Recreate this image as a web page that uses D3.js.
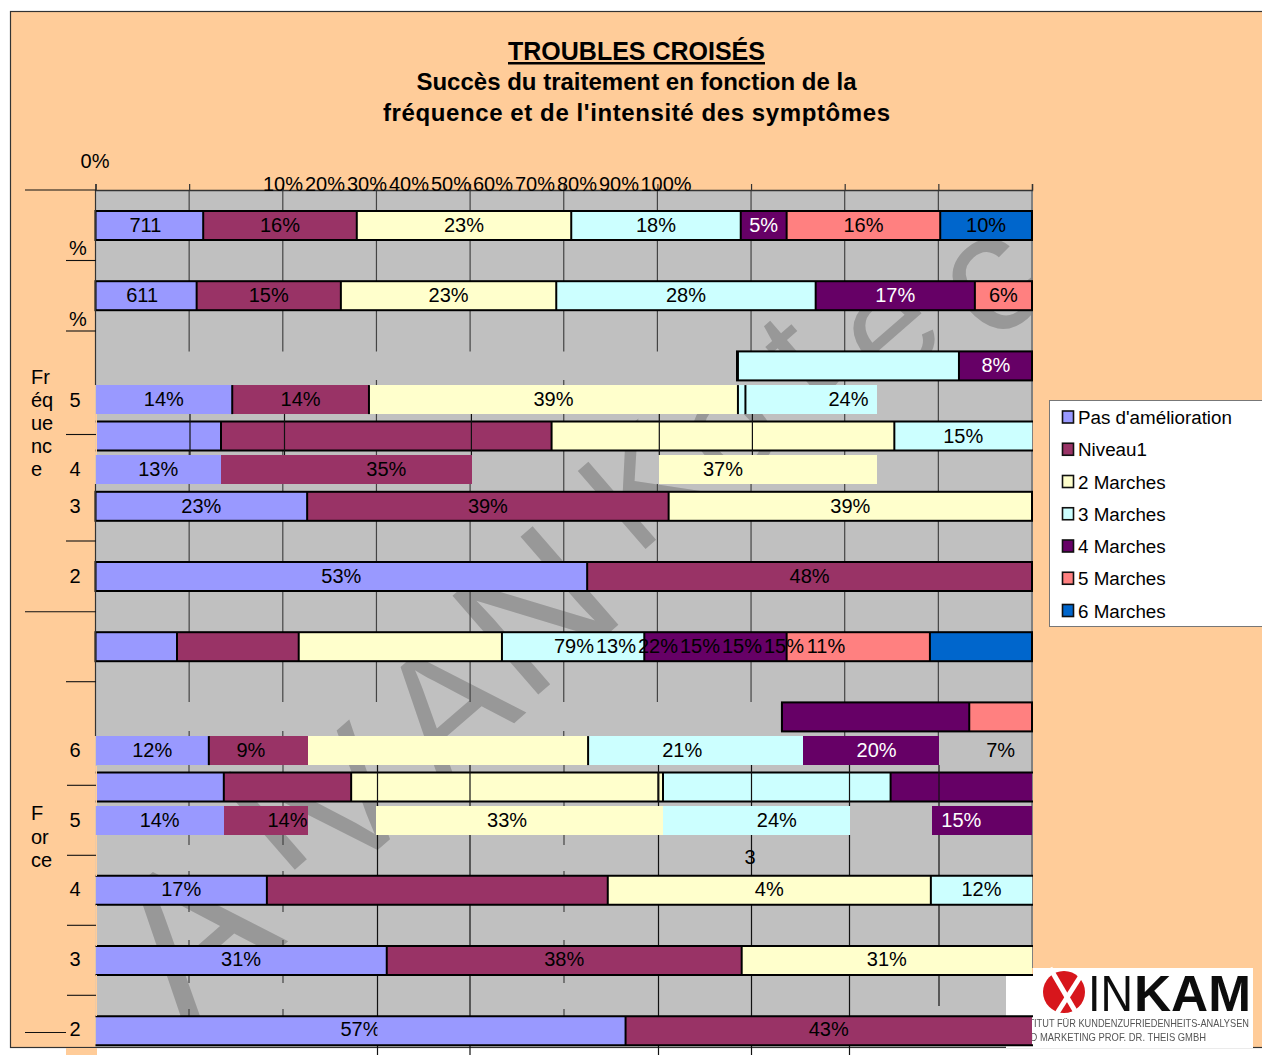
<!DOCTYPE html>
<html>
<head>
<meta charset="utf-8">
<script src="https://cdn.jsdelivr.net/npm/d3@7"></script>
<style>
  html, body { margin: 0; padding: 0; background: #fff; overflow: hidden; }
  text { font-family: "Liberation Sans", Arial, sans-serif; fill: #000; }
</style>
</head>
<body>
<div id="chart"></div>
<script>
// legend / series
const seriesNames = ["Pas d'amélioration", "Niveau1", "2 Marches", "3 Marches", "4 Marches", "5 Marches", "6 Marches"];
const seriesColors = ["#9999FF", "#993366", "#FFFFCC", "#CCFFFF", "#660066", "#FF8080", "#0066CC"];

const tickValues = [0, 10, 20, 30, 40, 50, 60, 70, 80, 90, 100];
const tickLabels = ["10%", "20%", "30%", "40%", "50%", "60%", "70%", "80%", "90%", "100%"];

// the broken print shows each row twice, shifted, so a row has a half slot
const rowSlots = [0, 1, 2, 2.48, 3, 3.48, 4, 5, 6, 7, 7.48, 8, 8.48, 9.47, 10.47, 11.47];

const rowValues = [
  [11.5, 16.4, 22.9, 18.1, 4.9, 16.4, 9.8],
  [10.8, 15.4, 23, 27.7, 17, 6.1],
  [14.6, 14.6, 39.4, 23.6, 7.9],
  [14.6, 14.6, 39.4, 23.6, 7.9],
  [13.4, 35.3, 36.6, 14.7],
  [13.4, 35.3, 36.6, 14.7],
  [22.6, 38.6, 38.8],
  [52.5, 47.5],
  [8.7, 13, 21.7, 15.2, 15.2, 15.3, 10.8],
  [12.1, 9, 31.5, 20.7, 20, 6.7],
  [12.1, 9, 1.6, 29.9, 20.1, 2.9, 15.6, 2.1, 6.7],
  [13.7, 13.6, 33.3, 24.3, 15.1],
  [13.7, 13.6, 33.3, 24.3, 15.1],
  [18.3, 36.4, 34.5, 10.8],
  [31.1, 37.9, 31],
  [56.6, 43.4]
];

// index into seriesNames for each piece, -1 = nothing painted
const rowSeries = [
  [0, 1, 2, 3, 4, 5, 6],
  [0, 1, 2, 3, 4, 5],
  [0, 1, 2, 3, 4],
  [0, 1, 2, 3, 4],
  [0, 1, 2, 3],
  [0, 1, 2, 3],
  [0, 1, 2],
  [0, 1],
  [0, 1, 2, 3, 4, 5, 6],
  [0, 1, 2, 3, 4, 5],
  [0, 1, 1, 2, 3, 3, 4, -1, -1],
  [0, 1, 2, 3, 4],
  [0, 1, 2, 3, 4],
  [0, 1, 2, 3],
  [0, 1, 2],
  [0, 1]
];

const rowLabels = [
  ["711", "16%", "23%", "18%", "5%", "16%", "10%"],
  ["611", "15%", "23%", "28%", "17%", "6%"],
  ["", "", "", "", "8%"],
  ["14%", "14%", "39%", "24%", ""],
  ["", "", "", "15%"],
  ["13%", "35%", "37%", ""],
  ["23%", "39%", "39%"],
  ["53%", "48%"],
  ["", "", "", "", "", "", ""],
  ["", "", "", "", "", ""],
  ["12%", "9%", "", "", "21%", "", "20%", "", "7%"],
  ["", "", "", "", ""],
  ["14%", "14%", "33%", "24%", "15%"],
  ["17%", "", "4%", "12%"],
  ["31%", "38%", "31%"],
  ["57%", "43%"]
];

// spans of a row that are missing in the print
const rowCuts = [
  [], [], [[0, 68.5]], [[83.4, 100]], [], [[40.2, 60.2], [83.4, 100]], [], [], [],
  [[0, 73.3]], [[90.1, 100]], [], [[22.7, 30], [80.6, 89.3]], [], [], []
];

// labels that ran together in the middle of one row
const strayLabels = ["79%", "13%", "22%", "15%", "15%", "15%", "11%"];

const freqLetters = ["Fr", "éq", "ue", "nc", "e"];
const forceLetters = ["F", "or", "ce"];
const upperCategories = ["%", "%", "5", "4", "3", "2"];
const lowerCategories = ["6", "5", "4", "3", "2"];
const watermarkLetters = ["A", "I", "V", "A", "N", "K", "o", "t", "e", "c"];

const width = 1262, height = 1055;
const barHeight = 29;

const svg = d3.select("#chart").append("svg")
  .attr("width", width)
  .attr("height", height)
  .style("display", "block");

const x = d3.scaleLinear().domain([0, 100]).range([95.5, 1032]);
const y = d3.scaleLinear().domain([0, 1]).range([211, 281.2]);
const color = d3.scaleOrdinal().domain(d3.range(7)).range(seriesColors);

const defs = svg.append("defs");
defs.append("clipPath").attr("id", "plotClip").append("rect")
  .attr("x", x(0)).attr("y", 190).attr("width", x(100) - x(0)).attr("height", 858);
defs.append("clipPath").attr("id", "cutLabel").append("rect")
  .attr("x", 0).attr("y", 0).attr("width", x(30) + 1).attr("height", height);
defs.append("filter").attr("id", "soft").append("feGaussianBlur").attr("stdDeviation", 0.5);

// frame
svg.append("rect")
  .attr("x", 10.5).attr("y", 11.5)
  .attr("width", width).attr("height", 1036)
  .attr("fill", "#FFCC99")
  .attr("stroke", "#333")
  .attr("stroke-width", 1.2);

// plot background
svg.append("rect")
  .attr("x", x(0)).attr("y", 190)
  .attr("width", x(100) - x(0)).attr("height", 857)
  .attr("fill", "#C0C0C0");

// watermark behind the bars, one letter at a time along the diagonal
const markX = [190, 262, 345, 445, 535, 640, 725, 795, 885, 985];
const markY = [932, 820, 800, 705, 610, 485, 425, 355, 325, 275];
const markSize = [205, 170, 170, 170, 190, 150, 150, 140, 150, 170];
svg.append("g")
  .attr("clip-path", "url(#plotClip)")
  .selectAll("text")
  .data(watermarkLetters)
  .enter()
  .append("text")
  .attr("transform", (d, i) => "translate(" + markX[i] + "," + markY[i] + ") rotate(-41)")
  .attr("text-anchor", "middle")
  .attr("dominant-baseline", "central")
  .attr("font-size", (d, i) => markSize[i])
  .style("fill", "#989898")
  .text(d => d);

// logo block
const logoBack = svg.append("g");
logoBack.append("rect").attr("x", 1006).attr("y", 976).attr("width", 30).attr("height", 72).attr("fill", "#fff");
logoBack.append("rect").attr("x", 1033).attr("y", 968).attr("width", 220).attr("height", 80).attr("fill", "#fff");
const logo = svg.append("g").attr("filter", "url(#soft)");
logo.append("ellipse")
  .attr("cx", 1064).attr("cy", 992).attr("rx", 21).attr("ry", 21)
  .attr("fill", "#D7141A");
logo.append("path")
  .attr("d", d3.line()([[1050, 968], [1078, 1016]]))
  .attr("stroke", "#fff").attr("stroke-width", 5).attr("fill", "none");
logo.append("path")
  .attr("d", d3.line()([[1082, 974], [1054, 1018]]))
  .attr("stroke", "#fff").attr("stroke-width", 5).attr("fill", "none");
logo.append("text")
  .attr("x", 1088).attr("y", 1011)
  .attr("font-size", 50)
  .attr("textLength", 45)
  .attr("lengthAdjust", "spacingAndGlyphs")
  .style("fill", "#111")
  .text("IN");
logo.append("text")
  .attr("x", 1134).attr("y", 1011)
  .attr("font-size", 50)
  .attr("font-weight", "bold")
  .attr("textLength", 117)
  .attr("lengthAdjust", "spacingAndGlyphs")
  .style("fill", "#111")
  .text("KAM");
logo.append("text")
  .attr("x", 1013).attr("y", 1027)
  .attr("font-size", 10.5)
  .attr("textLength", 236)
  .attr("lengthAdjust", "spacingAndGlyphs")
  .style("fill", "#555")
  .text("INSTITUT FÜR KUNDENZUFRIEDENHEITS-ANALYSEN");
logo.append("text")
  .attr("x", 1017).attr("y", 1041)
  .attr("font-size", 10.5)
  .attr("textLength", 189)
  .attr("lengthAdjust", "spacingAndGlyphs")
  .style("fill", "#555")
  .text("UND MARKETING PROF. DR. THEIS GMBH");

// grid, pieces of it went missing so it is drawn run by run
const upperTicks = [10, 20, 30, 40, 50, 60, 70, 80, 90];
const lowerX = [377.5, 470, 658.5, 751.5, 849.5, 939];
const lowerShort = [189, 283, 564];

function gridRun(g, xs, y0, y1, col) {
  g.selectAll(null)
    .data(xs)
    .enter()
    .append("line")
    .attr("x1", d => d).attr("x2", d => d)
    .attr("y1", y0).attr("y2", y1)
    .attr("stroke", col || "#444")
    .attr("stroke-width", 1.2);
}

const gridBack = svg.append("g");
const allX = upperTicks.map(d => x(d));
gridRun(gridBack, allX, 190, 351.5);
gridRun(gridBack, [x(30), x(50)], 380, 385);
gridRun(gridBack, [x(80), x(90)], 351, 422);
gridRun(gridBack, [x(30), x(50)], 414, 422);
gridRun(gridBack, [x(30), x(10), x(20)], 450, 455);
gridRun(gridBack, [x(50), x(80), x(90)], 450, 492);
gridRun(gridBack, [x(10), x(20), x(30), x(40), x(60), x(70)], 484, 492);
gridRun(gridBack, allX, 520, 702);
gridRun(gridBack, [x(10), x(20), x(50)], 731, 737);
gridRun(gridBack, [x(80), x(90)], 702, 737);
gridRun(gridBack, lowerShort, 765, 773);
gridRun(gridBack, lowerShort, 801, 806);
gridRun(gridBack, lowerShort, 835, 845);
gridRun(gridBack, lowerShort, 871, 876);
gridRun(gridBack, lowerShort, 904, 912);
gridRun(gridBack, lowerShort, 940, 946);
gridRun(gridBack, lowerShort, 975, 983);
gridRun(gridBack, lowerShort, 1009, 1016);
gridRun(gridBack, lowerX, 835, 876, "#111");
gridRun(gridBack, lowerX, 904, 946, "#111");
gridRun(gridBack, lowerX.slice(0, 5), 975, 1016, "#111");
gridRun(gridBack, lowerX.slice(0, 5), 1045, 1055, "#111");
gridRun(gridBack, [939], 975, 1006, "#111");

// right edge of the plot
svg.append("line")
  .attr("x1", x(100)).attr("x2", x(100))
  .attr("y1", 190).attr("y2", 968)
  .attr("stroke", "#808080").attr("stroke-width", 2);

// remove the cut spans from a piece
function visibleSpans(a, b, cuts) {
  let spans = [[a, b]];
  cuts.forEach(function (c) {
    let next = [];
    spans.forEach(function (s) {
      if (c[1] <= s[0] || c[0] >= s[1]) { next.push(s); return; }
      if (c[0] > s[0]) next.push([s[0], c[0]]);
      if (c[1] < s[1]) next.push([c[1], s[1]]);
    });
    spans = next;
  });
  return spans;
}

// rows with a full black box, rows with rails only, rule indexes for the rest
const boxRows = [0, 1, 2, 6, 7, 8, 9];
const railRows = [4, 11, 13, 14, 15];
const ruleRows = { 3: [0, 1, 2], 10: [0, 3] };
const extraRules = { 3: [69.4], 11: [60.1] };

const rowsG = svg.append("g");
const labelsG = svg.append("g");

rowSlots.forEach(function (slot, r) {
  const top = y(slot);
  const values = rowValues[r];
  const cuts = rowCuts[r];
  const g = rowsG.append("g").attr("class", "row");
  let acc = 0;
  const pieces = values.map(function (v, i) {
    const p = { start: acc, end: acc + v, series: rowSeries[r][i], label: rowLabels[r][i] };
    acc += v;
    return p;
  });

  pieces.forEach(function (p) {
    if (p.series < 0) return;
    visibleSpans(p.start, p.end, cuts).forEach(function (s) {
      g.append("rect")
        .attr("x", x(s[0]))
        .attr("y", top)
        .attr("width", Math.min(x(s[1]), x(100)) - x(s[0]))
        .attr("height", barHeight)
        .attr("shape-rendering", "crispEdges")
        .attr("fill", color(p.series));
    });
  });

  // dividers
  let rules = [];
  if (boxRows.includes(r) || railRows.includes(r)) {
    rules = pieces.slice(0, -1).map(p => p.end);
  } else if (ruleRows[r]) {
    rules = ruleRows[r].map(i => pieces[i].end);
  }
  rules = rules.filter(v => visibleSpans(v - 0.01, v + 0.01, cuts).length > 0);
  if (extraRules[r]) rules = rules.concat(extraRules[r]);

  g.selectAll("line.rule")
    .data(rules)
    .enter()
    .append("line")
    .attr("class", "rule")
    .attr("x1", d => x(d)).attr("x2", d => x(d))
    .attr("y1", top).attr("y2", top + barHeight)
    .attr("stroke", "#000").attr("stroke-width", 2);

  if (boxRows.includes(r)) {
    const from = cuts.length ? cuts[0][1] : 0;
    g.append("rect")
      .attr("x", x(from))
      .attr("y", top)
      .attr("width", x(100) - x(from))
      .attr("height", barHeight)
      .attr("fill", "none")
      .attr("stroke", "#000")
      .attr("stroke-width", 2);
  }
  if (railRows.includes(r)) {
    g.selectAll("line.rail")
      .data([top, top + barHeight])
      .enter()
      .append("line")
      .attr("class", "rail")
      .attr("x1", x(0)).attr("x2", x(100) + 1)
      .attr("y1", d => d).attr("y2", d => d)
      .attr("stroke", "#000").attr("stroke-width", 2);
  }

  pieces.filter(p => p.label).forEach(function (p) {
    const t = labelsG.append("text")
      .attr("x", x((p.start + p.end) / 2) + (p.label.includes("%") ? 0 : -4))
      .attr("y", top + (r > 12 ? 20 : 21))
      .attr("text-anchor", "middle")
      .attr("font-size", 20)
      .style("fill", p.series === 4 ? "#fff" : "#000")
      .text(p.label);
    if (p.label === "57%") t.attr("clip-path", "url(#cutLabel)");
  });
});

// grid that landed on top of the bars
const gridFront = svg.append("g");
gridRun(gridFront, [190, 284.5, 471.4, 659.3, 752.4], 414, 455, "#111");
gridRun(gridFront, lowerX, 765, 806, "#111");

// stray labels
const strayX = d3.scalePoint().domain(d3.range(strayLabels.length)).range([574, 826]);
labelsG.selectAll("text.stray")
  .data(strayLabels)
  .enter()
  .append("text")
  .attr("class", "stray")
  .attr("x", (d, i) => strayX(i))
  .attr("y", y(6) + 21)
  .attr("text-anchor", "middle")
  .attr("font-size", 20)
  .text(d => d);

labelsG.append("text")
  .attr("x", 750).attr("y", 864)
  .attr("text-anchor", "middle")
  .attr("font-size", 20)
  .text("3");

// peach strip that covers the left end of the lower bars
svg.append("rect").attr("x", 66).attr("y", 1048).attr("width", 31).attr("height", 7).attr("fill", "#FFCC99");
[[414, 41], [766, 40], [835, 41], [905, 41], [975, 41]].forEach(function (d) {
  svg.append("rect").attr("x", 95.5).attr("y", d[0]).attr("width", 1.5).attr("height", d[1]).attr("fill", "#FFCC99");
});

// top axis, only the tick marks and the line
const axis = svg.append("g")
  .attr("transform", "translate(0,190)")
  .call(d3.axisTop(x).tickValues(tickValues).tickSize(6).tickFormat(""));
axis.select(".domain").attr("stroke", "#333").attr("stroke-width", 1.4);
axis.selectAll(".tick line").attr("stroke", "#333").attr("stroke-width", 1.2);

// long axis line on the left
svg.append("line").attr("x1", x(0)).attr("x2", x(0)).attr("y1", 190).attr("y2", 385).attr("stroke", "#333").attr("stroke-width", 1.2);
svg.append("line").attr("x1", x(0)).attr("x2", x(0)).attr("y1", 484).attr("y2", 736).attr("stroke", "#333").attr("stroke-width", 1.2);

// tick labels, they collapsed together in the print
svg.append("text").attr("x", 95).attr("y", 168).attr("text-anchor", "middle").attr("font-size", 20).text("0%");
const tickX = d3.scalePoint().domain(d3.range(tickLabels.length)).range([283, 661]);
svg.selectAll("text.tl")
  .data(tickLabels)
  .enter()
  .append("text")
  .attr("class", "tl")
  .attr("x", (d, i) => i === 9 ? tickX(i) + 5 : tickX(i))
  .attr("y", 191)
  .attr("text-anchor", "middle")
  .attr("font-size", 20)
  .text(d => d);

// left category ticks
const leftTicks = svg.append("g");
[[25, 190], [66, 260.5], [66, 331], [66, 434.5], [66, 541], [25, 611.7], [66, 681.7],
 [67, 785.3], [67, 855.3], [67, 925.3], [67, 995.3]].forEach(function (d) {
  leftTicks.append("line")
    .attr("x1", d[0]).attr("x2", 96)
    .attr("y1", d[1]).attr("y2", d[1])
    .attr("stroke", "#111").attr("stroke-width", 1.1);
});
leftTicks.append("line")
  .attr("x1", 25).attr("x2", 66)
  .attr("y1", 1032.5).attr("y2", 1032.5)
  .attr("stroke", "#111").attr("stroke-width", 1.1);

// left labels
const catUpperY = [248, 319, 400, 469, 506, 576];
const catLowerY = [750, 820, 889, 959, 1029];
svg.selectAll("text.catU")
  .data(upperCategories)
  .enter()
  .append("text")
  .attr("class", "catU")
  .attr("x", (d, i) => i < 2 ? 78 : 75)
  .attr("y", (d, i) => catUpperY[i] + 7)
  .attr("text-anchor", "middle")
  .attr("font-size", 20)
  .text(d => d);
svg.selectAll("text.catL")
  .data(lowerCategories)
  .enter()
  .append("text")
  .attr("class", "catL")
  .attr("x", 75)
  .attr("y", (d, i) => catLowerY[i] + 7)
  .attr("text-anchor", "middle")
  .attr("font-size", 20)
  .text(d => d);

svg.selectAll("text.freq")
  .data(freqLetters)
  .enter()
  .append("text")
  .attr("class", "freq")
  .attr("x", 31)
  .attr("y", (d, i) => 384 + i * 23.1)
  .attr("font-size", 20)
  .text(d => d);
svg.selectAll("text.force")
  .data(forceLetters)
  .enter()
  .append("text")
  .attr("class", "force")
  .attr("x", 31)
  .attr("y", (d, i) => 820 + i * 23.5)
  .attr("font-size", 20)
  .text(d => d);

// title
svg.append("text")
  .attr("x", 636.5).attr("y", 60)
  .attr("text-anchor", "middle")
  .attr("font-size", 25)
  .attr("font-weight", "bold")
  .attr("text-decoration", "underline")
  .text("TROUBLES CROISÉS");
svg.append("text")
  .attr("x", 636.5).attr("y", 90)
  .attr("text-anchor", "middle")
  .attr("font-size", 24)
  .attr("font-weight", "bold")
  .text("Succès du traitement en fonction de la");
svg.append("text")
  .attr("x", 383).attr("y", 121)
  .attr("font-size", 24)
  .attr("font-weight", "bold")
  .attr("textLength", 507)
  .text("fréquence et de l'intensité des symptômes");

// legend
const legend = svg.append("g");
legend.append("rect")
  .attr("x", 1049.5).attr("y", 400.5)
  .attr("width", 220).attr("height", 226)
  .attr("fill", "#fff")
  .attr("stroke", "#777");
const legendY = d3.scalePoint().domain(seriesNames).range([417, 610.5]);
const items = legend.selectAll("g")
  .data(seriesNames)
  .enter()
  .append("g")
  .attr("transform", d => "translate(0," + legendY(d) + ")");
items.append("rect")
  .attr("x", 1062.5).attr("y", -6)
  .attr("width", 11).attr("height", 12)
  .attr("fill", d => color(seriesNames.indexOf(d)))
  .attr("stroke", "#111")
  .attr("stroke-width", 1.6);
items.append("text")
  .attr("x", 1078).attr("y", 7)
  .attr("font-size", 18.8)
  .text(d => d);
</script>
</body>
</html>
